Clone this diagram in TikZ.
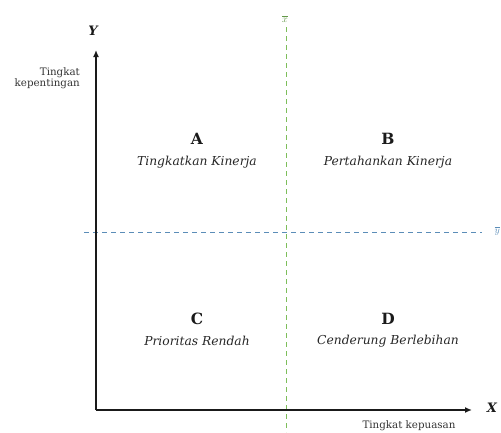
\documentclass[tikz,border=0pt]{standalone}
\usepackage{fontspec}
\setmainfont{DejaVu Serif}
\usetikzlibrary{arrows.meta}
\definecolor{axisc}{HTML}{1A1A1A}
\definecolor{gdash}{HTML}{7DBE5A}
\definecolor{bdash}{HTML}{5B8DB8}
\tikzset{
  axisline/.style={draw=axisc, line width=1.4pt, -{Latex[length=7pt,width=6pt]}},
  vdash/.style={draw=gdash, line width=1pt, dash pattern=on 5pt off 4pt},
  hdash/.style={draw=bdash, line width=1pt, dash pattern=on 5pt off 4pt},
  letter/.style={font=\bfseries\fontsize{15.5}{18}\selectfont, text=axisc},
  desc/.style={font=\itshape\fontsize{12.3}{14}\selectfont, text=black!85},
  small/.style={font=\fontsize{10.3}{11.5}\selectfont, text=black!80},
  axlabel/.style={font=\bfseries\itshape\fontsize{13}{15}\selectfont, text=axisc}
}
\begin{document}
\begin{tikzpicture}[x=1pt,y=-1pt]
\useasboundingbox (0,0) rectangle (501,432);
\coordinate (O) at (96,410);
\coordinate (Ytop) at (96,50);
\coordinate (Xend) at (472,410);
\coordinate (vt) at (286,27);
\coordinate (vb) at (286,432);
\coordinate (hl) at (84,232);
\coordinate (hr) at (482,232);
\draw[vdash] (vt) -- (vb);
\draw[hdash] (hl) -- (hr);
\draw[axisline] (O) -- (Ytop);
\draw[axisline] (O) -- (Xend);
\node[axlabel] (ylab) at (93,31) {Y};
\node[axlabel] (xlab) at (492,408) {X};
\node[small, align=right, anchor=east, inner sep=0pt] (ytxt) at (80,78) {Tingkat\\kepentingan};
\node[small, inner sep=0pt] (xtxt) at (409,426) {Tingkat kepuasan};
\node[font=\fontsize{10}{11}\selectfont, text=gdash!80!black] (xbar) at (285,19) {$\overline{x}$};
\node[font=\fontsize{10}{11}\selectfont, text=bdash, anchor=east, inner sep=1pt] (ybar) at (501,231) {$\overline{y}$};
\node[letter] (A) at (197,139) {A};
\node[desc] (Ad) at (197,162) {Tingkatkan Kinerja};
\node[letter] (B) at (388,139) {B};
\node[desc] (Bd) at (388,162) {Pertahankan Kinerja};
\node[letter] (C) at (197,319) {C};
\node[desc] (Cd) at (197,341) {Prioritas Rendah};
\node[letter] (D) at (388,319) {D};
\node[desc] (Dd) at (388,341) {Cenderung Berlebihan};
\end{tikzpicture}
\end{document}
